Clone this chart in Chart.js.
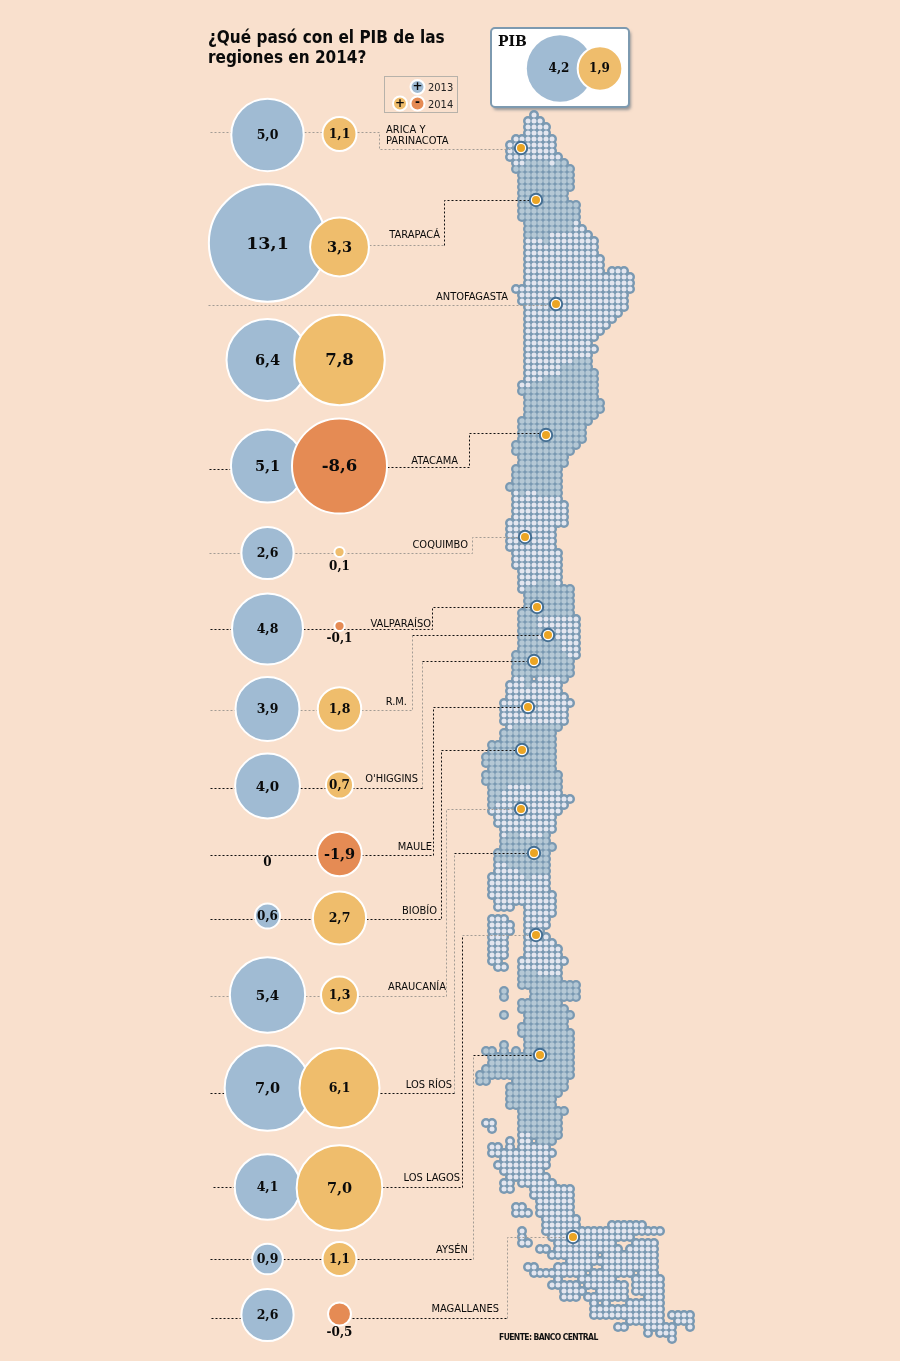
<!DOCTYPE html>
<html lang="es"><head><meta charset="utf-8"><title>PIB regiones 2014</title>
<style>html,body{margin:0;padding:0;background:#f9e0cd}canvas{display:block}</style>
<script src="https://cdn.jsdelivr.net/npm/chart.js@4"></script></head><body>
<canvas id="c" width="900" height="1361"></canvas>
<script>
// ---------- data ----------
const regions=["ARICA Y PARINACOTA","TARAPACÁ","ANTOFAGASTA","ATACAMA","COQUIMBO","VALPARAÍSO","R.M.","O'HIGGINS","MAULE","BIOBÍO","ARAUCANÍA","LOS RÍOS","LOS LAGOS","AYSÉN","MAGALLANES"];
const gdp2013=[5.0,13.1,6.4,5.1,2.6,4.8,3.9,4.0,0,0.6,5.4,7.0,4.1,0.9,2.6];
const gdp2014=[1.1,3.3,7.8,-8.6,0.1,-0.1,1.8,0.7,-1.9,2.7,1.3,6.1,7.0,1.1,-0.5];
const nationalGdp=[4.2,1.9];
// ---------- layout (page units) ----------
const row2013Y=[135,243,360,466,553,629,709,786,862,916,995,1088,1187,1259,1315];
const row2014Y=[134,247,360,466,552,626,709,785,854,918,995,1088,1188,1259,1314];
const col2013X=267.5, col2014X=339.5;
const labelLines=[["ARICA Y",386,130,"left"],["PARINACOTA",386,141.5,"left"],["TARAPACÁ",440,235,"right"],["ANTOFAGASTA",508,297,"right"],["ATACAMA",458,461,"right"],["COQUIMBO",468,545,"right"],["VALPARAÍSO",431,624,"right"],["R.M.",407,702,"right"],["O'HIGGINS",418,779,"right"],["MAULE",432,847,"right"],["BIOBÍO",437,911,"right"],["ARAUCANÍA",446,987,"right"],["LOS RÍOS",452,1085,"right"],["LOS LAGOS",460,1178,"right"],["AYSÉN",468,1250,"right"],["MAGALLANES",499,1309,"right"]];
const font2013=[12.5,17.5,14.5,14.5,12.5,12.5,12.5,13.5,12,12,13.5,14.5,12.5,12.5,12.5];
const font2014=[12.5,14.5,16.5,16.5,12,12,12.5,12,14.5,12.5,12.5,12.5,14.5,12,12];
const capitalX=[521,536,556,546,525,537,548,534,528,522,521,534,536,540,573];
const capitalY=[148,200,304,435,537,607,635,661,707,750,809,853,935,1055,1237];
const BLK="#111",GRY="#a39c94";
const leaders=[
[GRY,[210,132],[231,132]],[GRY,[304,132],[322,132]],[GRY,[357,132],[379,132],[379,149],[512,149]],
[GRY,[369,245],[444,245]],[BLK,[444,245],[444,200.5],[530,200.5]],
[GRY,[208,305],[550,305]],
[BLK,[209,469],[230,469]],[BLK,[387,467],[469,467],[469,433.5],[540,433.5]],
[GRY,[209,553],[240,553]],[GRY,[295,553],[472,553],[472,537],[518,537]],
[BLK,[210,629],[231,629]],[BLK,[303,629],[432,629],[432,607.5],[530,607.5]],
[GRY,[210,710],[235,710]],[GRY,[300,710],[318,710]],[GRY,[361,710],[412,710],[412,635]],[BLK,[412,635],[541,635]],
[BLK,[210,788],[235,788]],[BLK,[300,788],[326,788]],[BLK,[352,788],[422,788]],[GRY,[422,788],[422,661]],[BLK,[422,661],[528,661]],
[BLK,[210,855],[317,855]],[BLK,[361,855],[433,855],[433,707.5],[522,707.5]],
[BLK,[210,919],[255,919]],[BLK,[280,919],[313,919]],[BLK,[366,919],[441,919],[441,750],[515,750]],
[GRY,[210,996],[230,996]],[GRY,[305,996],[322,996]],[GRY,[358,996],[446,996],[446,809],[515,809]],
[BLK,[210,1093],[225,1093]],[BLK,[380,1093],[454,1093]],[GRY,[454,1093],[454,853.5]],[BLK,[454,853.5],[528,853.5]],
[BLK,[213,1187],[235,1187]],[BLK,[382,1187],[462.5,1187],[462.5,935]],[GRY,[462.5,935],[530,935]],
[BLK,[210,1259],[252,1259]],[BLK,[283,1259],[322,1259]],[BLK,[357,1259],[473,1259]],[GRY,[473,1259],[473,1055]],[BLK,[473,1055],[533,1055]],
[BLK,[211,1318],[241,1318]],[BLK,[352,1318],[507,1318]],[GRY,[507,1318],[507,1237],[566,1237]]
];
// ---------- tile map: "row:colStart-colEnd,..." ----------
const mapDarkRows=("8:8-14 9:6-15 10:7-15 11:7-15 12:7-15 13:7-14 14:7-14 15:7-16 16:7-16 17:7-16 18:8-15 19:8-15 20:8-11 21:11-11 "+
"41:16-18 42:14-18 43:14-19 44:11-19 45:9-19 46:7-19 47:8-19 48:8-20 49:8-20 50:8-19 51:7-18 52:7-17 53:7-17 54:7-17 55:6-16 56:6-15 57:7-14 58:7-14 59:6-13 60:6-13 61:6-13 62:5-13 63:7-7,10-13 78:10-12 "+
"79:8-15 80:8-15 81:8-15 82:8-15 83:7-15 84:7-9 85:7-9 86:7-10 87:7-9 88:7-13 89:7-13 90:6-14 91:6-15 92:6-15 93:6-15 94:8-8,14-14 95:8-8 "+
"102:6-13 103:4-12 104:4-12 105:2-12 106:2-12 107:1-12 108:1-12 109:2-12 110:1-13 111:1-13 112:2-4,9-13 113:2-3 114:2-3 115:2-2 "+
"120:5-6,11-11 121:4-11 122:4-12 123:3-11 124:3-11 125:5-11 126:7-11 127:8-8 "+
"143:7-9 144:7-13 145:7-16 146:4-4,9-16 147:4-4,9-16 148:7-13 149:7-14 150:4-4,8-15 151:8-14 152:7-14 153:7-15 154:8-15 155:4-4,8-15 156:1-2,4-4,6-6,8-15 157:2-15 158:2-15 159:1-15 160:0-15 161:0-1,6-14 162:5-14 163:5-13 164:5-12 165:5-12 166:7-14 167:7-13 168:7-13 169:7-13 170:9-13 171:10-12").split(" ");
const mapLightRows=("0:9-9 1:8-10 2:8-11 3:8-11 4:6-12 5:5-12 6:5-12 7:5-13 8:6-7,12-12 18:16-16 19:16-17 20:12-18 21:8-10,12-19 22:8-19 23:8-19 24:8-20 25:8-20 26:8-20,22-24 27:8-25 28:8-25 29:6-25 30:7-24 31:7-24 32:8-24 33:8-23 34:8-22 35:8-21 36:8-20 37:8-19 38:8-18 39:8-19 40:8-18 41:8-15 42:8-13 43:8-13 44:8-10 45:7-8 "+
"63:6-6,8-9 64:6-13 65:6-14 66:6-14 67:6-14 68:5-14 69:5-12 70:5-12 71:5-12 72:5-12 73:6-13 74:6-13 75:6-13 76:7-13 77:7-13 78:7-9,13-13 79:7-7 "+
"84:10-16 85:10-16 86:11-16 87:10-16 88:14-16 89:14-16 90:15-16 94:6-7,10-13 95:5-7,9-13 96:5-13 97:5-14 98:4-15 99:4-14 100:4-14 101:4-14 102:5-5 "+
"112:5-8 113:4-13 114:4-15 115:3-14 116:2-13 117:3-12 118:3-12 119:4-12 120:4-4,7-10 125:3-4 126:3-6 127:2-7,9-11 128:2-11 129:2-11 130:2-12 131:3-12 132:3-5,8-12 133:8-12 134:2-4,8-11 135:2-5,8-11 136:2-5,8-10 137:2-4,8-11 138:2-4,8-12 139:2-4,8-13 140:2-4,8-13 141:2-3,7-14 142:3-4,7-13 143:10-13 "+
"168:1-2 169:2-2 170:7-8 171:5-5,7-8 172:2-3,5-5,7-11 173:2-12 174:4-11 175:3-11 176:4-10 177:5-11 178:4-5,7-12 179:4-5,9-15 180:9-15 181:10-15 182:6-7,10-15 183:6-8,10-15 184:11-16 185:11-16,22-27 186:7-7,11-30 187:7-7,12-25 188:7-8,13-22,26-29 189:10-11,13-23,25-29 190:12-19,21-29 191:15-29 192:8-9,13-18,21-29 193:9-17,19-25,27-29 194:13-13,17-22,26-30 195:12-16,18-24,26-30 196:14-17,20-24,26-30 197:14-16,18-24,28-30 198:19-19,21-21,25-30 199:19-30 200:19-30,32-35 201:25-30,33-35 202:23-24,28-32,35-35 203:28-28,30-32 204:32-32").split(" ");
// ---------- helpers ----------
const C13="#a0bbd3",CPOS="#efbd6c",CNEG="#e58b54",WHITE="#ffffff";
const K=16.2;
const rad=v=>v===0?0:Math.max(5,K*Math.sqrt(Math.abs(v)));
const cells=rows=>{const o=[];rows.forEach(s=>{const [r,rs]=s.split(":");rs.split(",").forEach(p=>{const [a,b]=p.split("-").map(Number);for(let c=a;c<=b;c++)o.push({x:480+6*c,y:115+6*(+r)});});});return o;};
const dark=cells(mapDarkRows),light=cells(mapLightRows);
const fmt=v=>v===0?"0":v.toFixed(1).replace(".",",");
const NUM=(s)=>`bold ${s}px "DejaVu Serif"`;
const LAB='"DejaVu Sans Condensed","DejaVu Sans"';
const belowLabel={4:566,5:638,14:1332};
const crisp=v=>Math.floor(v)+0.5;

const textPlugin={id:"texts",
 beforeDatasetsDraw(ch){ // PIB box and legend box sit under their bubbles
  const x=ch.scales.x,y=ch.scales.y,g=ch.ctx;
  g.save();
  g.shadowColor="rgba(70,90,110,.55)";g.shadowOffsetX=2;g.shadowOffsetY=3;g.shadowBlur=3;
  g.fillStyle="#fff";g.strokeStyle="#7d9ab0";g.lineWidth=2;
  g.beginPath();g.roundRect(x.getPixelForValue(491),y.getPixelForValue(28),138,79,4);g.fill();
  g.shadowColor="transparent";g.stroke();
  g.strokeStyle="#b7b2aa";g.lineWidth=1;g.strokeRect(x.getPixelForValue(384.5),y.getPixelForValue(76.5),73,36);
  g.restore();
 },
 afterDatasetsDraw(ch){
  const x=ch.scales.x,y=ch.scales.y,g=ch.ctx;
  const T=(t,px,py,f,al,col)=>{g.font=f;g.textAlign=al||"center";g.textBaseline="middle";g.fillStyle=col||"#0a0a0a";g.fillText(t,x.getPixelForValue(px),y.getPixelForValue(py));};
  g.save();
  T("¿Qué pasó con el PIB de las",208,38.5,'bold 17px '+LAB,"left");
  T("regiones en 2014?",208,58.5,'bold 17px '+LAB,"left");
  T("PIB",498,42,NUM(14),"left");
  T(fmt(nationalGdp[0]),559,69,NUM(12));
  T(fmt(nationalGdp[1]),599.5,68.5,NUM(12));
  T("+",417.5,87,'bold 12px "DejaVu Sans"');
  T("+",400,103.5,'bold 12px "DejaVu Sans"');
  T("-",417.5,103,'bold 12px "DejaVu Sans"');
  T("2013",428,88.5,'11px '+LAB,"left","#222");
  T("2014",428,105.5,'11px '+LAB,"left","#222");
  labelLines.forEach(l=>T(l[0],l[1],l[2],'11px '+LAB,l[3],"#0a0a0a"));
  regions.forEach((n,i)=>{
   T(fmt(gdp2013[i]),col2013X,row2013Y[i]+1,NUM(font2013[i]));
   T(fmt(gdp2014[i]),col2014X,(belowLabel[i]||row2014Y[i])+1,NUM(font2014[i]));
  });
  g.letterSpacing="-0.6px";
  T("FUENTE: BANCO CENTRAL",499,1338,'bold 8.5px '+LAB,"left","#111");
  g.restore();
 }};

const bub=(data,color,order,bw)=>({type:"bubble",data,order,clip:false,backgroundColor:color,borderColor:WHITE,borderWidth:bw===undefined?2:bw});
const datasets=[
 {type:"scatter",data:dark.concat(light),order:100,pointRadius:5,backgroundColor:"#7a99b2",borderWidth:0,pointBorderWidth:0},
 {type:"scatter",data:dark,order:99,pointRadius:2.7,backgroundColor:"#b5c8d5",pointBorderWidth:0},
 {type:"scatter",data:light,order:98,pointRadius:2.5,backgroundColor:"#e4e6ef",pointBorderWidth:0},
 ...leaders.map(p=>({type:"scatter",showLine:true,order:90,data:p.slice(1).map(q=>({x:crisp(q[0]),y:crisp(q[1])})),borderColor:p[0],borderWidth:1,borderDash:[2,2],pointRadius:0,fill:false})),
 // capitals: ring, white gap, orange core
 {type:"scatter",order:80,data:capitalX.map((v,i)=>({x:v,y:capitalY[i]})),pointRadius:7.2,backgroundColor:"#446e92",pointBorderWidth:0},
 {type:"scatter",order:79,data:capitalX.map((v,i)=>({x:v,y:capitalY[i]})),pointRadius:5.2,backgroundColor:"#ffffff",pointBorderWidth:0},
 {type:"scatter",order:78,data:capitalX.map((v,i)=>({x:v,y:capitalY[i]})),pointRadius:4,backgroundColor:"#eba524",pointBorderWidth:0},
 // 2013 under 2014
 bub(gdp2013.map((v,i)=>({x:col2013X,y:row2013Y[i],r:rad(v)})),C13,60),
 bub(gdp2014.map((v,i)=>({x:col2014X,y:row2014Y[i],r:rad(v)})),gdp2014.map(v=>v<0?CNEG:CPOS),50),
 bub([{x:560,y:68.5,r:rad(nationalGdp[0])}],C13,40,0),
 bub([{x:600,y:68.5,r:rad(nationalGdp[1])}],CPOS,30),
 bub([{x:417.5,y:87,r:7}],C13,20),
 bub([{x:400,y:103.5,r:7}],CPOS,20),
 bub([{x:417.5,y:103.5,r:7}],CNEG,20)
];
new Chart(document.getElementById("c"),{
 data:{datasets},
 plugins:[textPlugin],
 options:{responsive:false,animation:false,devicePixelRatio:1,
  layout:{padding:0,autoPadding:false},
  plugins:{legend:{display:false},tooltip:{enabled:false}},
  events:[],
  scales:{x:{type:"linear",min:0,max:900,display:false},y:{type:"linear",min:0,max:1361,reverse:true,display:false}}
 }});
</script></body></html>
